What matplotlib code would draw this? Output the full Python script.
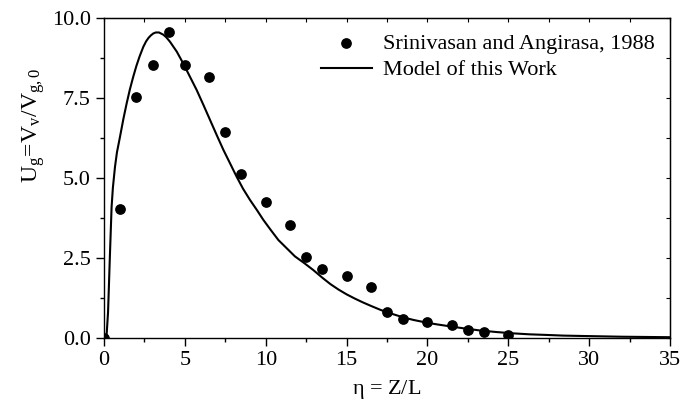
import numpy as np
import matplotlib
matplotlib.use("Agg")
import matplotlib.pyplot as plt
from matplotlib.ticker import MultipleLocator

plt.rcParams['font.family'] = ['Liberation Serif', 'DejaVu Serif']
plt.rcParams['mathtext.fontset'] = 'custom'
plt.rcParams['mathtext.rm'] = 'Liberation Serif'
plt.rcParams['mathtext.it'] = 'Liberation Serif:italic'

# Experimental data (Srinivasan and Angirasa, 1988)
eta_exp = [0.0, 1.0, 2.0, 3.0, 4.0, 5.0, 6.5, 7.5, 8.5, 10.0, 11.5, 12.5,
           13.5, 15.0, 16.5, 17.5, 18.5, 20.0, 21.5, 22.5, 23.5, 25.0]
u_exp = [0.0, 4.04, 7.54, 8.54, 9.55, 8.54, 8.15, 6.44, 5.13, 4.24, 3.53, 2.54,
         2.15, 1.94, 1.59, 0.82, 0.60, 0.49, 0.40, 0.25, 0.19, 0.09]

# Model curve
eta_model = [0.15, 0.25, 0.37, 0.47, 0.55, 0.68, 0.8, 0.99, 1.2, 1.4, 1.6,
             1.81, 2.0, 2.2, 2.43, 2.6, 2.75, 2.9, 3.05, 3.2, 3.4, 3.67,
             3.85, 4.08, 4.5, 4.9, 5.3, 5.73, 6.15, 6.56, 6.97, 7.38, 7.8,
             8.2, 8.6, 9.03, 9.45, 9.85, 10.3, 10.78, 11.3, 11.8, 12.4,
             12.94, 13.5, 14.0, 14.5, 15.0, 15.5, 16.0, 16.5, 17.07, 17.5,
             18.0, 18.5, 19.13, 20.0, 20.6, 21.19, 22.2, 23.25, 24.3, 25.31,
             26.3, 27.4, 28.4, 29.4, 32.0, 35.0]
u_model = [0.0, 0.8, 2.65, 4.1, 4.7, 5.35, 5.8, 6.29, 6.85, 7.33, 7.77,
           8.17, 8.5, 8.8, 9.1, 9.27, 9.38, 9.46, 9.52, 9.55, 9.55, 9.48,
           9.4, 9.26, 8.95, 8.58, 8.18, 7.75, 7.28, 6.81, 6.34, 5.88, 5.45,
           5.04, 4.66, 4.31, 4.0, 3.69, 3.38, 3.06, 2.8, 2.55, 2.33,
           2.12, 1.88, 1.68, 1.51, 1.36, 1.23, 1.11, 1.0, 0.88, 0.8,
           0.72, 0.64, 0.56, 0.47, 0.42, 0.375, 0.3, 0.23, 0.18, 0.14,
           0.11, 0.09, 0.07, 0.06, 0.035, 0.02]

fig = plt.figure(figsize=(6.98, 4.11), dpi=100)
ax = fig.add_axes([0.149, 0.178, 0.811, 0.778])

ax.scatter(eta_exp, u_exp, s=45, color='black', zorder=3,
           label='Srinivasan and Angirasa, 1988')
ax.plot(eta_model, u_model, color='black', lw=1.5, label='Model of this Work')

ax.set_xlim(0, 35)
ax.set_ylim(0, 10)
ax.xaxis.set_major_locator(MultipleLocator(5))
ax.xaxis.set_minor_locator(MultipleLocator(2.5))
ax.yaxis.set_major_locator(MultipleLocator(2.5))
ax.yaxis.set_minor_locator(MultipleLocator(1.25))
ax.yaxis.set_major_formatter(plt.FormatStrFormatter('%.1f'))
ax.tick_params(which='major', direction='out', length=6, width=1, labelsize=16)
ax.tick_params(which='minor', direction='out', length=3, width=1)

# inward ticks on the top and right frame
top = ax.secondary_xaxis('top')
top.xaxis.set_major_locator(MultipleLocator(2.5))
top.tick_params(direction='in', length=3, labeltop=False)
right = ax.secondary_yaxis('right')
right.yaxis.set_major_locator(MultipleLocator(1.25))
right.tick_params(direction='in', length=3, labelright=False)

for sp in ax.spines.values():
    sp.set_linewidth(1)

ax.set_xlabel(r'$\mathrm{\eta}$ = Z/L', fontsize=16, labelpad=6)
ax.set_ylabel(r'$\mathrm{U_g\!=\!V_v/V_{g,0}}$', fontsize=17)
ax.yaxis.set_label_coords(-0.10, 0.665)

ax.legend(loc='upper right', frameon=False, fontsize=16, handlelength=2.3,
          handletextpad=0.5, borderaxespad=0.3, labelspacing=0.25)

fig.savefig('out.png', dpi=100)
